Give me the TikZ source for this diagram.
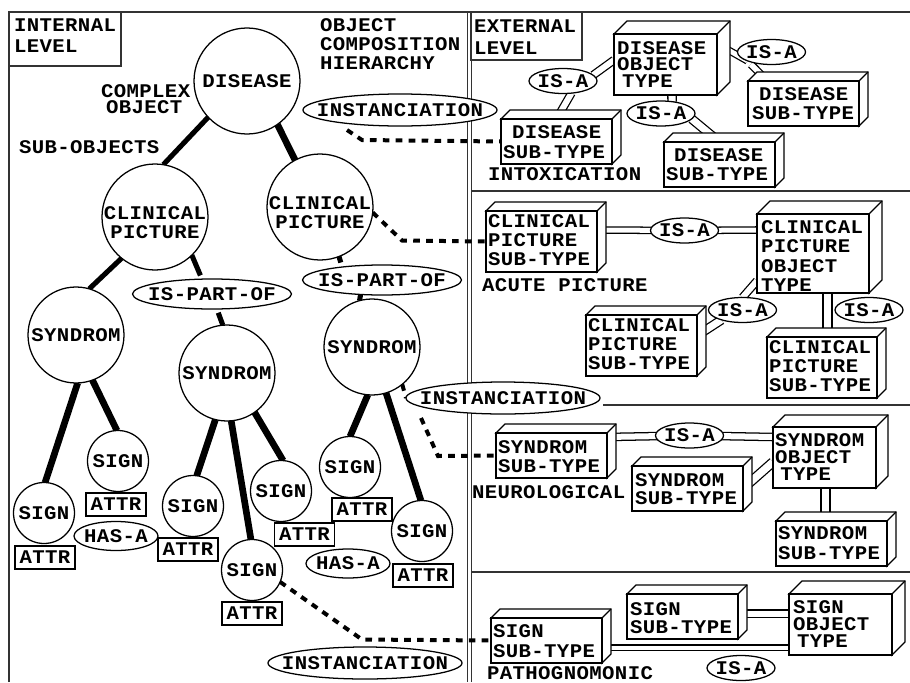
\documentclass[tikz,border=0pt]{standalone}
\usepackage{fontspec}
\setmainfont[LetterSpace=2,FakeStretch=1.07]{Liberation Mono}
\usetikzlibrary{shapes.geometric}
\pgfdeclarelayer{bg}
\pgfsetlayers{bg,main}
\newcommand\zt[1]{\makebox[0pt][c]{#1}}
\tikzset{
  lw/.style={line width=0.95pt,draw=black},
  every node/.style={font=\bfseries\fontsize{14.5}{18}\selectfont,inner sep=0pt,outer sep=0pt},
  circ/.style={circle,lw,fill=white,minimum size=#1*0.75pt},
  ell/.style 2 args={ellipse,lw,fill=white,minimum width=#1*0.75pt,minimum height=#2*0.75pt},
  isa/.style={ell={68}{25}},
  ipo/.style={ell={159}{30}},
  inst/.style={ell={194}{32}},
  hasa/.style={ell={84}{29}},
  attr/.style={rectangle,lw,fill=white,minimum width=45pt,minimum height=17.25pt},
  face/.style={rectangle,lw,fill=white},
  txt/.style={anchor=west,align=left},
  lead/.style={font=\bfseries\fontsize{14.5}{#1}\selectfont},
  frameline/.style={line width=1.1pt,draw=black!80},
  tk/.style={line width=3.8pt,draw=black},
  tkk/.style={line width=5pt,draw=black},
  dots/.style={line width=3pt,draw=black,dash pattern=on 5pt off 4.7pt},
  dbl/.style={lw,double=white,double distance=#1*0.75pt},
}
% name, x1, y1, x2, y2, depth
\newcommand\cube[6]{%
  \draw[lw,fill=white] (#2,#3) -- ({#2+#6},{#3-#6}) -- ({#4+#6},{#3-#6}) -- ({#4+#6},{#5-#6}) -- (#4,#5) -- (#4,#3) -- cycle;
  \draw[lw] (#4,#3) -- ({#4+#6},{#3-#6});
  \node[face,minimum width={(#4-#2)*0.75pt},minimum height={(#5-#3)*0.75pt}] (#1) at ({(#2+#4)/2},{(#3+#5)/2}) {};
}
\begin{document}
\begin{tikzpicture}[x=0.75pt,y=-0.75pt]
\useasboundingbox (0,0) rectangle (910,682);

% frame
\begin{pgfonlayer}{bg}
\fill[white] (0,0) rectangle (910,682);
\draw[frameline] (9,682) -- (9,12) -- (910,12);
\draw[frameline] (467.5,12) -- (467.5,682);
\draw[frameline] (471.5,12) -- (471.5,682);
\draw[frameline] (471.5,191) -- (910,191);
\draw[frameline] (603,405) -- (910,405);
\draw[frameline] (471.5,572) -- (910,572);
\end{pgfonlayer}
\node[rectangle,frameline,draw,minimum width=84pt,minimum height=40.5pt] (intbox) at (65,39) {};
\node[txt,lead=15.75] (intt) at (14,35.5) {INTERNAL\\LEVEL};
\node[rectangle,frameline,draw,minimum width=83.25pt,minimum height=36pt] (extbox) at (526.5,36) {};
\node[txt,lead=16.5] (extt) at (474,37) {EXTERNAL\\LEVEL};

% tree nodes
\node[circ=106] (dis) at (247,81) {\zt{DISEASE}};
\node[circ=106] (cp1) at (155,217) {};
\node[circ=106] (cp2) at (320,207) {};
\node[circ=96] (syn1) at (76,335) {\zt{SYNDROM}};
\node[circ=96] (syn2) at (227,373) {\zt{SYNDROM}};
\node[circ=96] (syn3) at (372,347) {\zt{SYNDROM}};
\node[circ=61] (s1) at (44,513) {\zt{SIGN}};
\node[circ=61] (s2) at (118,461) {\zt{SIGN}};
\node[circ=61] (s3) at (193,506) {\zt{SIGN}};
\node[circ=61] (s4) at (281,491) {\zt{SIGN}};
\node[circ=61] (s5) at (252,570) {\zt{SIGN}};
\node[circ=61] (s6) at (350,467) {\zt{SIGN}};
\node[circ=61] (s7) at (422,531) {\zt{SIGN}};
\node[attr] (a1) at (45,557.5) {ATTR};
\node[attr] (a2) at (116,504.5) {ATTR};
\node[attr] (a3) at (188,549.5) {ATTR};
\node[attr] (a4) at (304.5,534.5) {ATTR};
\node[attr] (a5) at (252,613.5) {ATTR};
\node[attr] (a6) at (362,509.5) {ATTR};
\node[attr] (a7) at (423,575.5) {ATTR};
\node[hasa] (h1) at (116,536) {\zt{HAS-A}};
\node[hasa] (h2) at (348,563.5) {\zt{HAS-A}};
\node[ipo] (ip1) at (212,294) {\zt{IS-PART-OF}};
\node[ipo] (ip2) at (382,280) {\zt{IS-PART-OF}};
\node[inst] (in1) at (400,110) {\zt{INSTANCIATION}};
\node[inst] (in2) at (503,398) {\zt{INSTANCIATION}};
\node[inst] (in3) at (365,663) {\zt{INSTANCIATION}};
\node[anchor=center,align=center,lead=14.25] (cp1t) at (155,222.5) {CLINICAL\\PICTURE};
\node[anchor=center,align=center,lead=14.25] (cp2t) at (320,212.5) {CLINICAL\\PICTURE};

% free texts
\node[txt,lead=14.25] (och) at (320,44) {OBJECT\\COMPOSITION\\HIERARCHY};
\node[txt,lead=12] (cob) at (101,99) {COMPLEX\\\hspace*{3.75pt}OBJECT};
\node[txt] (sob) at (19,147) {SUB-OBJECTS};
\node[txt] (lintox) at (488,174) {INTOXICATION};
\node[txt] (lacute) at (482,285) {ACUTE PICTURE};
\node[txt] (lneuro) at (472,492) {NEUROLOGICAL};
\node[txt] (lpath) at (487,673) {PATHOGNOMONIC};

% external: disease
\cube{dobj}{614}{34}{717}{95}{13}
\cube{d1}{501}{119}{612}{164}{9}
\cube{d2}{748}{81}{859}{126}{9}
\cube{d3}{664}{142}{775}{187}{9}
\node[isa] (e1) at (563,81) {\zt{IS-A}};
\node[isa] (e2) at (771.5,52) {\zt{IS-A}};
\node[isa] (e3) at (661,113.5) {\zt{IS-A}};
\node[txt,lead=12.4] (dobjt) at (617,64.5) {DISEASE\\OBJECT\\\hspace*{3.75pt}TYPE};
\node[txt,lead=14.6] (d1t) at (503,142) {\hspace*{6.75pt}DISEASE\\SUB-TYPE};
\node[txt,lead=14.6] (d2t) at (752,103.5) {\hspace*{5.25pt}DISEASE\\SUB-TYPE};
\node[txt,lead=14.6] (d3t) at (666,164.5) {\hspace*{6pt}DISEASE\\SUB-TYPE};

% external: clinical picture
\cube{cobj}{757}{214}{869}{293}{13}
\cube{c1}{486}{211}{597}{272}{9}
\cube{c2}{586}{315}{697}{376}{9}
\cube{c3}{767}{337}{877}{398}{9}
\node[isa] (e4) at (684.5,230.5) {\zt{IS-A}};
\node[isa] (e5) at (742.5,310) {\zt{IS-A}};
\node[isa] (e6) at (869,310) {\zt{IS-A}};
\node[txt,lead=14.5] (cobjt) at (761,256) {CLINICAL\\PICTURE\\OBJECT\\TYPE};
\node[txt,lead=14.25] (c1t) at (488,240) {CLINICAL\\PICTURE\\SUB-TYPE};
\node[txt,lead=14.25] (c2t) at (588,344) {CLINICAL\\PICTURE\\SUB-TYPE};
\node[txt,lead=14.25] (c3t) at (769,366) {CLINICAL\\PICTURE\\SUB-TYPE};

% external: syndrom
\cube{sobj}{773}{427}{876}{488}{12}
\cube{y1}{496}{433}{607}{478}{9}
\cube{y2}{632}{466}{743}{511}{9}
\cube{y3}{776}{521}{887}{566}{9}
\node[isa] (e7) at (689.5,435.5) {\zt{IS-A}};
\node[txt,lead=12.75] (sobjt) at (775,457) {SYNDROM\\OBJECT\\\hspace*{4pt}TYPE};
\node[txt,lead=14.25] (y1t) at (498,456.5) {SYNDROM\\SUB-TYPE};
\node[txt,lead=13.9] (y2t) at (635,489) {SYNDROM\\SUB-TYPE};
\node[txt,lead=14.6] (y3t) at (778,543) {SYNDROM\\SUB-TYPE};

% external: sign
\cube{gobj}{789}{594}{892}{655}{13}
\cube{g1}{491}{618}{602}{663}{9}
\cube{g2}{627}{594}{738}{639}{9}
\node[isa] (e8) at (741,668) {\zt{IS-A}};
\node[txt,lead=12.75] (gobjt) at (793,624) {SIGN\\OBJECT\\\hspace*{3pt}TYPE};
\node[txt,lead=14.6] (g1t) at (493,641) {SIGN\\SUB-TYPE};
\node[txt,lead=13.5] (g2t) at (630,618) {SIGN\\SUB-TYPE};

% helper coordinates
\coordinate (vc) at (827.5,0);
\coordinate (vs) at (825.5,0);
\coordinate (hc) at (0,230);
\coordinate (hs) at (0,437);
\coordinate (hg1) at (0,647.5);
\coordinate (hg2) at (0,613.5);
\coordinate (st1) at (347,130);
\coordinate (bd1) at (362,140);
\coordinate (bd2) at (402,240.5);
\coordinate (st3) at (421,418);
\coordinate (bd3) at (438,456);
\coordinate (bd4) at (362,639.5);

% connectors, beneath the nodes
\begin{pgfonlayer}{bg}
\draw[tk] (dis.223.5) -- (cp1.81);
\draw[tkk] (dis.-55) -- (cp2.118);
\draw[tk] (cp1.231) -- (syn1.74);
\draw[tk,shorten >=3pt] (cp1.-46) -- (ip1.124);
\draw[tk,shorten <=3pt] (ip1.-72) -- (syn2.95);
\draw[tk,shorten >=3.5pt] (cp2.-69) -- (ip2.162);
\draw[tk] (ip2.214) -- (syn3.105);
\draw[tkk] (syn1.-88) -- (s1.88);
\draw[tkk] (syn1.-70) -- (s2.92);
\draw[tkk] (syn2.256) -- (s3.83);
\draw[tkk] (syn2.-85) -- (s5.92);
\draw[tkk] (syn2.-55) -- (s4.86);
\draw[tkk] (syn3.265) -- (s6.90);
\draw[tkk] (syn3.-73) -- (s7.92);

\draw[dots] (st1) -- (bd1) -- (d1.west);
\draw[dots] (cp2.-6) -- (bd2) -- (c1.west);
\draw[dots] (syn3.-51.5) -- (in2.west);
\draw[dots] (st3) -- (bd3) -- (y1.west);
\draw[dots] (s5.-23) -- (bd4) -- (g1.west);

\draw[dbl=6] (dobj.175) -- (e1.11.6);
\draw[dbl=6] (e1.-55) -- (d1.north);
\draw[dbl=5] (dobj.22.6) -- (e2.200);
\draw[dbl=5.5,shorten <=3.75pt] (e2.south west) -- (d2.148.4);
\draw[dbl=7] (dobj.-78) -- (e3.47);
\draw[dbl=7] (e3.-10) -- (d3.north);

\draw[dbl=5] (c1.east |- hc) -- (e4.center);
\draw[dbl=5] (e4.center) -- (cobj.west |- hc);
\draw[dbl=6] (cobj.206) -- (e5.north);
\draw[dbl=7] (e5.205) -- (c2.10.7);
\draw[dbl=7.5] (cobj.south -| vc) -- (c3.north -| vc);

\draw[dbl=6] (y1.east |- hs) -- (e7.center);
\draw[dbl=6] (e7.center) -- (sobj.west |- hs);
\draw[dbl=7.5] (y2.east) -- (sobj.185);
\draw[dbl=7.5] (sobj.south -| vs) -- (y3.north -| vs);

\draw[dbl=6] (g2.east |- hg2) -- (gobj.west |- hg2);
\draw[dbl=4] (g1.east |- hg1) -- (gobj.west |- hg1);
\end{pgfonlayer}
\end{tikzpicture}
\end{document}
